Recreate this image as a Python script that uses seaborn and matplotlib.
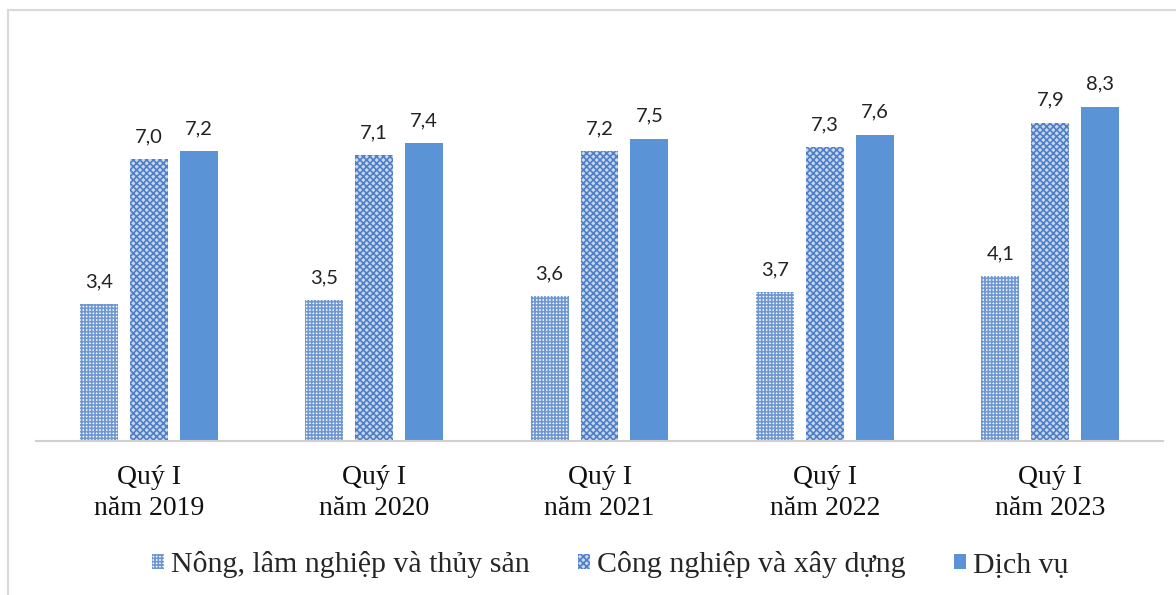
import matplotlib
matplotlib.use("Agg")
import matplotlib.pyplot as plt
from matplotlib.patches import Patch
from matplotlib.lines import Line2D
import pandas as pd
import seaborn as sns

# Categories and series values
periods = ["Quý I\nnăm 2019", "Quý I\nnăm 2020", "Quý I\nnăm 2021",
           "Quý I\nnăm 2022", "Quý I\nnăm 2023"]
sectors = ["Nông, lâm nghiệp và thủy sản", "Công nghiệp và xây dựng", "Dịch vụ"]
nong_lam = [3.4, 3.5, 3.6, 3.7, 4.1]
cong_nghiep = [7.0, 7.1, 7.2, 7.3, 7.9]
dich_vu = [7.2, 7.4, 7.5, 7.6, 8.3]

df = pd.DataFrame({
    "period": periods * 3,
    "sector": [sectors[0]] * 5 + [sectors[1]] * 5 + [sectors[2]] * 5,
    "value": nong_lam + cong_nghiep + dich_vu,
})

sns.set_theme(style="white")
plt.rcParams["hatch.linewidth"] = 1.2

fig = plt.figure(figsize=(11.76, 5.95), dpi=100)
ax = fig.add_axes([36 / 1176, 154 / 595, 1127 / 1176, 403 / 595])

sns.barplot(data=df, x="period", y="value", hue="sector", order=periods,
            hue_order=sectors, width=0.665, gap=0.24, legend=False, ax=ax)

styles = [
    dict(facecolor="#ffffff", edgecolor="#6f98d2", hatch="+++++"),
    dict(facecolor="#c9d8ef", edgecolor="#4f7fc6", hatch="xxxxx"),
    dict(facecolor="#5b94d6", edgecolor="#5b94d6", hatch=None),
]

for cont, st, vals in zip(ax.containers, styles, [nong_lam, cong_nghiep, dich_vu]):
    for bar in cont:
        bar.set_facecolor(st["facecolor"])
        bar.set_edgecolor(st["edgecolor"])
        bar.set_linewidth(0)
        if st["hatch"]:
            bar.set_hatch(st["hatch"])
    ax.bar_label(cont, labels=[f"{v:.1f}".replace(".", ",") for v in vals],
                 padding=10, fontsize=14.5, family="Lato", color="#222222")

ax.set_xlim(-0.5, 4.5)
ax.set_ylim(0, 10)
ax.set_xlabel("")
ax.set_ylabel("")
ax.set_yticks([])
for side in ["top", "left", "right"]:
    ax.spines[side].set_visible(False)
ax.spines["bottom"].set_color("#d0d0d0")
ax.spines["bottom"].set_linewidth(1.5)
ax.tick_params(axis="x", length=0, pad=17)
for lbl in ax.get_xticklabels():
    lbl.set_family("Liberation Serif")
    lbl.set_fontsize(20)
    lbl.set_linespacing(1.35)
    lbl.set_color("#111111")

handles = [Patch(facecolor=st["facecolor"], edgecolor=st["edgecolor"],
                 hatch=st["hatch"], linewidth=0) for st in styles]
fig.legend(handles, sectors, loc="center", bbox_to_anchor=(0.519, 1 - 565 / 595),
           ncol=3, frameon=False, handlelength=0.4, handleheight=0.4,
           handletextpad=0.25, columnspacing=1.6,
           prop={"family": "Liberation Serif", "size": 21.5})

# Light frame around the chart area
fig.add_artist(Line2D([8 / 1176, 1.0], [1 - 10 / 595, 1 - 10 / 595],
                      transform=fig.transFigure, color="#d9d9d9", linewidth=1.5))
fig.add_artist(Line2D([8 / 1176, 8 / 1176], [0, 1 - 10 / 595],
                      transform=fig.transFigure, color="#d9d9d9", linewidth=1.5))

fig.savefig("out.png", dpi=100, facecolor="white")
